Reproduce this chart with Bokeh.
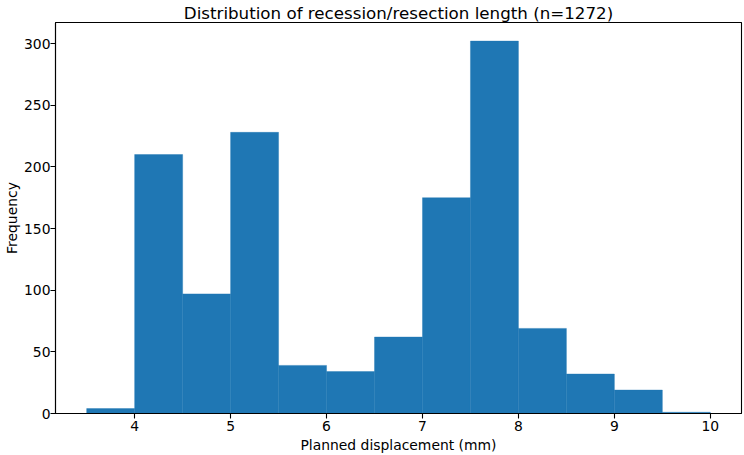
from bokeh.plotting import figure
from bokeh.models import Range1d, FixedTicker, Title
from bokeh.embed import file_html
from bokeh.resources import INLINE

# Histogram of planned displacement, bin width 0.5 mm
bin_edges = [3.5, 4.0, 4.5, 5.0, 5.5, 6.0, 6.5, 7.0, 7.5, 8.0, 8.5, 9.0, 9.5, 10.0]
counts = [4, 210, 97, 228, 39, 34, 62, 175, 302, 69, 32, 19, 1]
x_ticks = [4, 5, 6, 7, 8, 9, 10]
y_ticks = [0, 50, 100, 150, 200, 250, 300]
title_text = "Distribution of recession/resection length (n=1272)"

FONT = "DejaVu Sans"

p = figure(
    width=744, height=455,
    output_backend="svg", toolbar_location=None,
    x_range=Range1d(3.175, 10.325), y_range=Range1d(0, 317.1),
    min_border_left=10, min_border_right=3, min_border_top=0, min_border_bottom=10,
)
p.title = None
p.add_layout(Title(text=title_text, align="center", text_font=FONT,
                   text_font_size="16.7px", text_font_style="normal",
                   text_color="black", standoff=0, text_line_height=0.6), "above")

p.quad(left=bin_edges[:-1], right=bin_edges[1:], bottom=0, top=counts,
       fill_color="#1f77b4", line_color="#1f77b4", line_width=0.4)

p.grid.visible = False
p.background_fill_color = "white"
p.border_fill_color = "white"
p.outline_line_color = "black"
p.outline_line_width = 1.1
p.outline_line_alpha = 1.0

for ax in (p.xaxis[0], p.yaxis[0]):
    ax.axis_line_color = "black"
    ax.axis_line_width = 1.1
    ax.major_tick_line_color = "black"
    ax.major_tick_line_width = 1.1
    ax.major_tick_out = 5
    ax.major_tick_in = 0
    ax.minor_tick_line_color = None
    ax.major_label_text_font = FONT
    ax.major_label_text_font_size = "13.9px"
    ax.major_label_text_color = "black"
    ax.axis_label_text_font = FONT
    ax.axis_label_text_font_size = "13.9px"
    ax.axis_label_text_font_style = "normal"
    ax.axis_label_text_color = "black"

p.xaxis[0].ticker = FixedTicker(ticks=x_ticks)
p.yaxis[0].ticker = FixedTicker(ticks=y_ticks)
p.xaxis[0].axis_label = "Planned displacement (mm)"
p.yaxis[0].axis_label = "Frequency"
p.xaxis[0].major_label_standoff = 2
p.yaxis[0].major_label_standoff = 0
p.xaxis[0].axis_label_standoff = 3
p.yaxis[0].axis_label_standoff = 1

open("out.html", "w").write(file_html(p, INLINE))
